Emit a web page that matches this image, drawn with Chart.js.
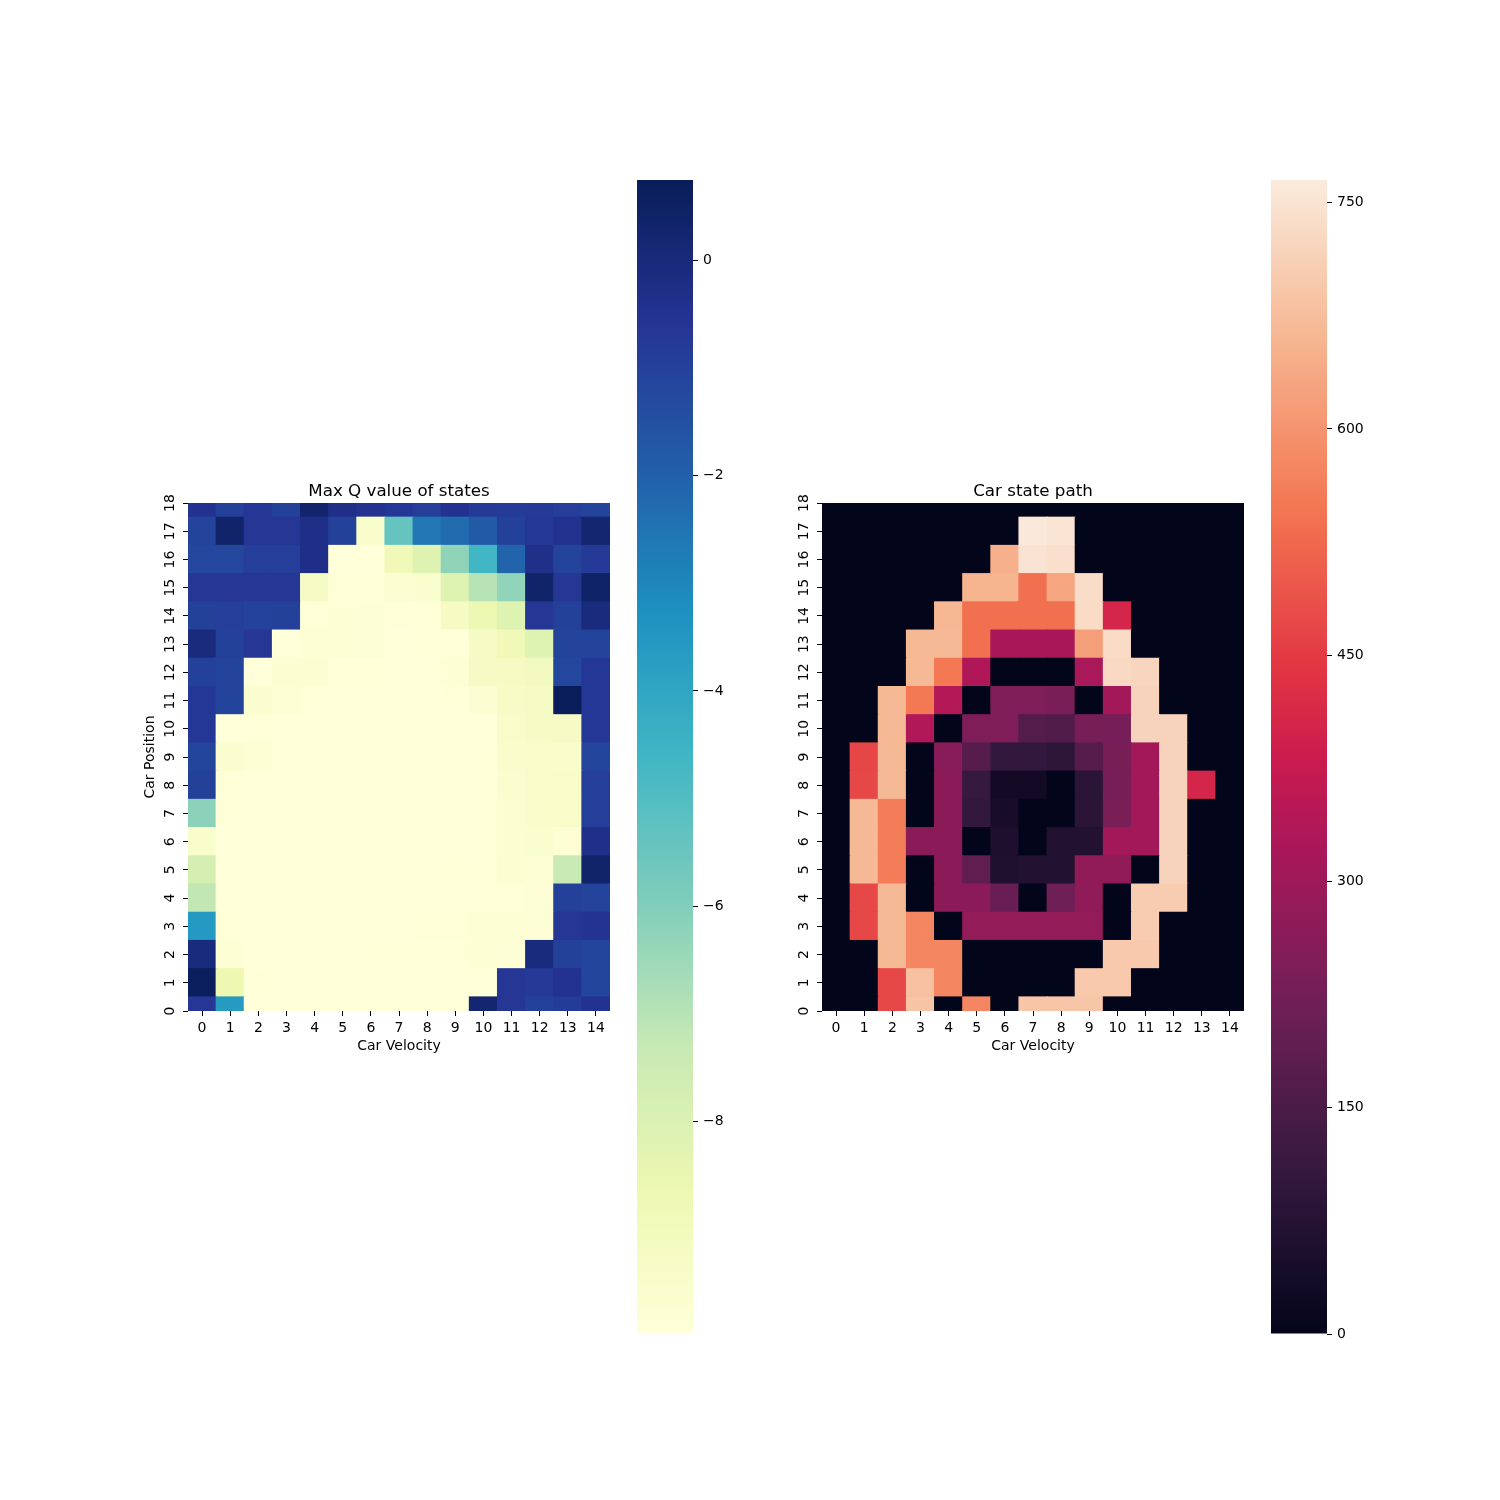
<!DOCTYPE html>
<html><head><meta charset="utf-8">
<script src="https://cdn.jsdelivr.net/npm/chart.js@4/dist/chart.umd.min.js"></script>
<style>
html,body{margin:0;padding:0;background:#fff;width:1500px;height:1500px;overflow:hidden}
canvas{position:absolute}
</style></head><body>
<canvas id="hm1" width="798" height="640" style="left:0;top:440px"></canvas>
<canvas id="cb1" width="120" height="1200" style="left:620px;top:160px"></canvas>
<canvas id="hm2" width="798" height="640" style="left:634px;top:440px"></canvas>
<canvas id="cb2" width="120" height="1200" style="left:1254px;top:160px"></canvas>
<script>
const velocities = [0,1,2,3,4,5,6,7,8,9,10,11,12,13,14];
const positions = [0,1,2,3,4,5,6,7,8,9,10,11,12,13,14,15,16,17,18];
const velocityLabels = velocities.map(String);
const qTicks = [-8,-6,-4,-2,0];
const visitTicks = [0,150,300,450,600,750];
const qRange = [-9.97, 0.743];
const visitRange = [0, 765];

// Max Q value, one row per car position (0 .. 18), columns = velocity 0 .. 14
const maxQ = [
  [-0.65,-3.6,-10,-10,-10,-10,-10,-10,-10,-10,0.2,-0.65,-1.0,-0.85,-0.5],
  [0.6,-8.7,-9.95,-10,-10,-10,-10,-10,-10,-10,-10,-0.65,-0.75,-0.5,-1.15],
  [-0.05,-9.8,-10,-10,-10,-10,-9.95,-9.95,-9.95,-9.95,-9.8,-9.85,-0.05,-1.0,-1.15],
  [-3.55,-9.9,-10,-10,-10,-10,-10,-10,-9.9,-9.9,-9.8,-9.8,-9.85,-0.65,-0.55],
  [-7.2,-10,-10,-10,-10,-10,-10,-10,-10,-10,-9.9,-9.9,-9.85,-1.0,-1.1],
  [-7.8,-10,-10,-10,-10,-10,-10,-10,-10,-9.95,-9.9,-9.75,-9.8,-7.35,0.35],
  [-9.5,-10,-10,-10,-10,-10,-10,-10,-10,-10,-9.95,-9.75,-9.6,-9.8,-0.35],
  [-6.2,-9.9,-10,-10,-10,-10,-10,-10,-10,-10,-9.95,-9.75,-9.5,-9.45,-0.9],
  [-1.0,-9.9,-10,-10,-10,-10,-10,-10,-10,-10,-9.95,-9.6,-9.45,-9.45,-0.9],
  [-1.15,-9.65,-9.8,-10,-10,-10,-10,-10,-10,-10,-9.9,-9.5,-9.45,-9.5,-1.15],
  [-0.7,-10,-9.9,-10,-10,-10,-10,-10,-10,-10,-10,-9.45,-9.3,-9.3,-0.7],
  [-0.7,-1.1,-9.6,-9.8,-9.9,-10,-10,-10,-10,-9.95,-9.75,-9.35,-9.3,0.73,-0.7],
  [-1.0,-1.1,-10,-9.7,-9.75,-9.95,-9.95,-10,-10,-9.8,-9.3,-9.25,-9.1,-1.2,-0.7],
  [-0.1,-1.0,-0.65,-10,-9.8,-9.8,-9.85,-10,-9.9,-9.95,-9.3,-8.9,-8.1,-1.1,-1.1],
  [-1.0,-0.9,-1.05,-1.0,-9.9,-9.8,-9.85,-9.9,-9.95,-9.2,-8.65,-8.1,-0.65,-1.0,-0.1],
  [-0.65,-0.65,-0.65,-0.65,-9.3,-9.9,-9.95,-9.75,-9.6,-8.1,-7.0,-6.3,0.35,-0.65,0.4],
  [-1.2,-1.2,-0.9,-0.9,-0.3,-10,-10,-8.9,-8.1,-6.25,-4.6,-2.1,-0.35,-1.1,-0.8],
  [-1.1,0.35,-0.65,-0.65,-0.3,-1.0,-9.5,-5.4,-2.6,-2.3,-1.8,-1.0,-0.7,-0.45,0.24],
  [-0.5,-1.0,-0.7,-1.0,0.3,-0.3,-0.5,-0.7,-0.9,-0.5,-0.8,-0.85,-0.8,-0.9,-1.1]
];

// Car state path (visit counts), one row per car position (0 .. 18)
const visits = [
  [0,0,470,687,0,575,0,691,691,691,0,0,0,0,0],
  [0,0,470,680,575,0,0,0,0,697,697,0,0,0,0],
  [0,0,666,575,575,0,0,0,0,0,697,697,0,0,0],
  [0,470,666,575,0,279,279,279,279,279,0,704,0,0,0],
  [0,470,666,0,267,267,204,0,213,275,0,704,704,0,0],
  [0,666,558,0,267,187,60,68,68,278,278,0,717,0,0],
  [0,666,558,267,267,0,57,0,68,68,308,308,717,0,0],
  [0,666,558,0,267,105,44,0,0,85,237,308,717,0,0],
  [0,470,666,0,267,111,35,35,0,88,231,308,717,405,0],
  [0,468,666,0,260,171,105,103,95,171,231,308,717,0,0],
  [0,0,666,335,0,244,244,167,163,231,229,717,717,0,0],
  [0,0,666,552,339,0,244,244,237,0,308,717,0,0,0],
  [0,0,0,666,550,334,0,0,0,320,729,721,0,0,0],
  [0,0,0,666,666,536,319,319,319,618,733,0,0,0,0],
  [0,0,0,0,662,536,536,536,536,733,405,0,0,0,0],
  [0,0,0,0,0,656,656,536,630,737,0,0,0,0,0],
  [0,0,0,0,0,0,650,750,741,0,0,0,0,0,0],
  [0,0,0,0,0,0,0,761,753,0,0,0,0,0,0],
  [0,0,0,0,0,0,0,0,0,0,0,0,0,0,0]
];

// colormaps
const ylgnbuStops = [[0,'#ffffd9'],[0.125,'#edf8b1'],[0.25,'#c7e9b4'],[0.375,'#7fcdbb'],[0.5,'#41b6c4'],[0.625,'#1d91c0'],[0.75,'#225ea8'],[0.875,'#253494'],[1,'#081d58']];
const rocketStops = [[0,'#03051a'],[1/7,'#35193e'],[2/7,'#701f57'],[3/7,'#ad1759'],[0.5,'#cb1b4f'],[4/7,'#e13342'],[5/7,'#f37651'],[6/7,'#f6b48f'],[1,'#faebdd']];
function hexRgb(h){return [parseInt(h.slice(1,3),16),parseInt(h.slice(3,5),16),parseInt(h.slice(5,7),16)];}
function makeCmap(stops){
  const s = stops.map(([t,h])=>[t,hexRgb(h)]);
  return function(t){
    t = Math.max(0, Math.min(1, t));
    for (let i=1;i<s.length;i++){
      if (t <= s[i][0]){
        const f = (t - s[i-1][0])/(s[i][0]-s[i-1][0]);
        const a = s[i-1][1], b = s[i][1];
        return 'rgb(' + [0,1,2].map(k=>Math.round(a[k]+(b[k]-a[k])*f)).join(',') + ')';
      }
    }
    const l = s[s.length-1][1]; return 'rgb('+l.join(',')+')';
  };
}
const ylgnbu = makeCmap(ylgnbuStops);
const rocket = makeCmap(rocketStops);

Chart.defaults.font.family = "'DejaVu Sans'";
Chart.defaults.font.size = 14;
Chart.defaults.color = '#000';

function heatmapConfig(matrix, cmap, range, title, yTitle){
  const datasets = positions.map((p, r) => ({
    data: velocities.map(() => [p - 0.5, p + 0.5]),
    backgroundColor: matrix[r].map(v => cmap((v - range[0])/(range[1]-range[0]))),
    borderWidth: 0, grouped: false, inflateAmount: 0.5, clip: 0,
    barPercentage: 1, categoryPercentage: 1
  }));
  return {
    type: 'bar',
    data: { labels: velocityLabels, datasets },
    options: {
      responsive: false, animation: false, events: [],
      layout: { padding: 0 },
      plugins: {
        legend: { display: false }, tooltip: { enabled: false },
        title: { display: true, text: title, color: '#000',
          font: { size: 16.7, weight: 'normal' }, padding: { top: 41.5, bottom: 1.5 } }
      },
      scales: {
        x: {
          type: 'category', offset: true,
          grid: { offset: false, drawOnChartArea: false, drawTicks: true, tickLength: 5, tickColor: '#000', tickWidth: 1 },
          border: { display: false },
          ticks: { padding: 3.5, maxRotation: 0, autoSkip: false },
          title: { display: true, text: 'Car Velocity', font: { size: 14 }, padding: { top: 0, bottom: 25.6 } },
          afterFit: s => { s.height = 69; }
        },
        y: {
          type: 'linear', min: 0, max: 18,
          afterBuildTicks: s => { s.ticks = positions.map(v => ({ value: v })); },
          grid: { drawOnChartArea: false, drawTicks: true, tickLength: 5, tickColor: '#000', tickWidth: 1 },
          border: { display: false },
          ticks: { minRotation: 90, maxRotation: 90, crossAlign: 'center', padding: 4, autoSkip: false },
          title: { display: !!yTitle, text: yTitle || '', font: { size: 14 }, padding: { top: 141.6, bottom: 0 } },
          afterFit: s => { s.width = 188; }
        },
        ySpace: {
          type: 'linear', position: 'right', display: true,
          ticks: { display: false }, grid: { display: false }, border: { display: false },
          afterFit: s => { s.width = 188; }
        }
      }
    }
  };
}

function colorbarConfig(range, ticks, cmap, fmt){
  return {
    type: 'bar',
    data: { labels: [''], datasets: [{
      data: [range],
      backgroundColor: (ctx) => {
        const a = ctx.chart.chartArea; if (!a) return 'rgba(0,0,0,0)';
        const g = ctx.chart.ctx.createLinearGradient(0, a.bottom, 0, a.top);
        for (let i = 0; i <= 64; i++) g.addColorStop(i/64, cmap(i/64));
        return g;
      },
      borderWidth: 0, barPercentage: 1, categoryPercentage: 1, clip: 0, inflateAmount: 0
    }]},
    options: {
      responsive: false, animation: false, events: [],
      layout: { padding: { left: 17, top: 20, bottom: 26, right: 0 } },
      plugins: { legend: { display: false }, tooltip: { enabled: false }, title: { display: false } },
      scales: {
        x: { display: false, offset: true },
        y: {
          position: 'right', min: range[0], max: range[1],
          afterBuildTicks: s => { s.ticks = ticks.map(v => ({ value: v })); },
          grid: { drawOnChartArea: false, drawTicks: true, tickLength: 5, tickColor: '#000', tickWidth: 1 },
          border: { display: false },
          ticks: { padding: 5, callback: fmt, autoSkip: false },
          afterFit: s => { s.width = 47; }
        }
      }
    }
  };
}

const minusFmt = v => (v < 0 ? '\u2212' + Math.abs(v) : String(v));

new Chart(document.getElementById('hm1'), heatmapConfig(maxQ, ylgnbu, qRange, 'Max Q value of states', 'Car Position'));
new Chart(document.getElementById('cb1'), colorbarConfig(qRange, qTicks, ylgnbu, minusFmt));
new Chart(document.getElementById('hm2'), heatmapConfig(visits, rocket, visitRange, 'Car state path', null));
new Chart(document.getElementById('cb2'), colorbarConfig(visitRange, visitTicks, rocket, v => String(v)));
</script>
</body></html>
